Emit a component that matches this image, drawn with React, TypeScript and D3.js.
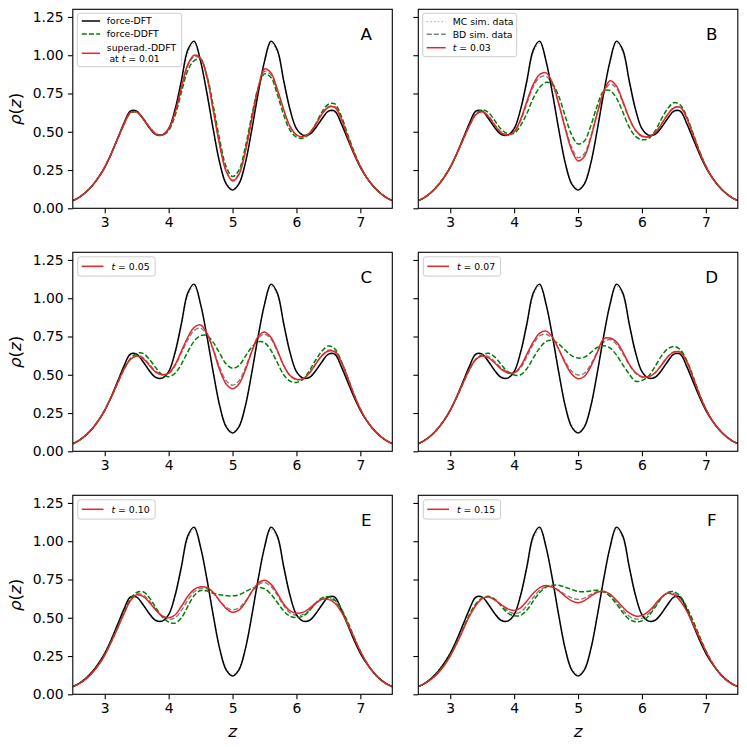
import React, { useEffect, useRef } from "react";
import * as d3 from "d3";

// z grid of the density profiles
const zGrid = [
  2.5, 2.6, 2.7, 2.8, 2.9, 3.0, 3.1, 3.2, 3.3, 3.4, 3.5, 3.6, 3.7, 3.8, 3.9, 4.0, 4.1, 4.2, 4.3, 4.4,
  4.5, 4.6, 4.7, 4.8, 4.9, 5.0, 5.1, 5.2, 5.3, 5.4, 5.5, 5.6, 5.7, 5.8, 5.9, 6.0, 6.1, 6.2, 6.3, 6.4,
  6.5, 6.6, 6.7, 6.8, 6.9, 7.0, 7.1, 7.2, 7.3, 7.4, 7.5,
];

// equilibrium curves, same in every panel
const forceDFT = [
  0.05, 0.072, 0.103, 0.145, 0.2, 0.268, 0.355, 0.455, 0.555, 0.635,
  0.635, 0.585, 0.525, 0.482, 0.478, 0.52, 0.645, 0.835, 1.035, 1.092,
  0.96, 0.75, 0.51, 0.295, 0.16, 0.12, 0.16, 0.295, 0.51, 0.75,
  0.96, 1.092, 1.035, 0.835, 0.645, 0.52, 0.478, 0.482, 0.525, 0.585,
  0.635, 0.635, 0.555, 0.455, 0.355, 0.268, 0.2, 0.145, 0.103, 0.072, 0.05,
];
const mcSim = [
  0.05, 0.073, 0.105, 0.148, 0.203, 0.272, 0.358, 0.455, 0.552, 0.628,
  0.632, 0.588, 0.53, 0.488, 0.482, 0.52, 0.635, 0.82, 1.015, 1.078,
  0.96, 0.755, 0.52, 0.305, 0.17, 0.128, 0.168, 0.3, 0.515, 0.745,
  0.95, 1.078, 1.02, 0.825, 0.64, 0.522, 0.482, 0.486, 0.528, 0.586,
  0.63, 0.628, 0.552, 0.455, 0.358, 0.272, 0.203, 0.148, 0.105, 0.073, 0.05,
];

// panel A, t = 0.01
const ddftA = [
  0.05, 0.072, 0.103, 0.145, 0.2, 0.268, 0.355, 0.452, 0.548, 0.622,
  0.628, 0.588, 0.53, 0.487, 0.478, 0.508, 0.605, 0.76, 0.9, 0.965,
  0.972, 0.865, 0.665, 0.445, 0.272, 0.207, 0.25, 0.4, 0.605, 0.785,
  0.878, 0.855, 0.745, 0.61, 0.51, 0.465, 0.457, 0.485, 0.55, 0.63,
  0.68, 0.682, 0.605, 0.485, 0.372, 0.275, 0.2, 0.145, 0.103, 0.072, 0.05,
];
const superA = [
  0.05, 0.072, 0.103, 0.145, 0.2, 0.268, 0.355, 0.452, 0.548, 0.625,
  0.628, 0.585, 0.528, 0.485, 0.478, 0.518, 0.625, 0.79, 0.94, 1.0,
  0.98, 0.855, 0.635, 0.41, 0.24, 0.178, 0.22, 0.37, 0.58, 0.785,
  0.91, 0.885, 0.78, 0.645, 0.535, 0.48, 0.467, 0.49, 0.545, 0.615,
  0.66, 0.66, 0.585, 0.47, 0.362, 0.272, 0.2, 0.145, 0.103, 0.072, 0.05,
];
const bdA = [
  0.05, 0.072, 0.104, 0.147, 0.202, 0.27, 0.356, 0.452, 0.548, 0.624,
  0.63, 0.588, 0.53, 0.486, 0.479, 0.516, 0.62, 0.782, 0.93, 0.992,
  0.975, 0.858, 0.64, 0.418, 0.248, 0.185, 0.226, 0.375, 0.582, 0.778,
  0.895, 0.872, 0.77, 0.64, 0.532, 0.478, 0.466, 0.49, 0.546, 0.618,
  0.664, 0.664, 0.588, 0.472, 0.364, 0.273, 0.202, 0.147, 0.104, 0.072, 0.05,
];

// panel B, t = 0.03
const ddftB = [
  0.05, 0.072, 0.103, 0.145, 0.2, 0.268, 0.353, 0.448, 0.54, 0.615,
  0.643, 0.625, 0.57, 0.515, 0.488, 0.49, 0.54, 0.62, 0.72, 0.79,
  0.823, 0.81, 0.73, 0.6, 0.48, 0.42, 0.44, 0.54, 0.67, 0.765,
  0.77, 0.72, 0.63, 0.53, 0.47, 0.448, 0.455, 0.5, 0.58, 0.65,
  0.69, 0.675, 0.6, 0.49, 0.375, 0.277, 0.2, 0.145, 0.103, 0.072, 0.05,
];
const superB = [
  0.05, 0.072, 0.103, 0.145, 0.2, 0.268, 0.353, 0.448, 0.54, 0.612,
  0.63, 0.598, 0.54, 0.492, 0.478, 0.5, 0.58, 0.7, 0.81, 0.875,
  0.885, 0.82, 0.68, 0.52, 0.38, 0.31, 0.34, 0.46, 0.62, 0.76,
  0.833, 0.8, 0.7, 0.59, 0.51, 0.472, 0.468, 0.49, 0.545, 0.61,
  0.655, 0.66, 0.59, 0.48, 0.368, 0.273, 0.2, 0.145, 0.103, 0.072, 0.05,
];
const bdB = [
  0.05, 0.072, 0.104, 0.147, 0.202, 0.27, 0.354, 0.448, 0.54, 0.613,
  0.632, 0.602, 0.545, 0.497, 0.48, 0.498, 0.57, 0.685, 0.795, 0.855,
  0.862, 0.805, 0.68, 0.53, 0.398, 0.33, 0.358, 0.472, 0.622, 0.75,
  0.812, 0.785, 0.692, 0.585, 0.508, 0.47, 0.466, 0.49, 0.548, 0.614,
  0.658, 0.66, 0.592, 0.48, 0.368, 0.274, 0.201, 0.146, 0.104, 0.072, 0.05,
];

// panel C, t = 0.05
const ddftC = [
  0.05, 0.072, 0.103, 0.145, 0.2, 0.268, 0.352, 0.445, 0.535, 0.605,
  0.64, 0.64, 0.6, 0.545, 0.5, 0.487, 0.51, 0.57, 0.65, 0.72,
  0.755, 0.755, 0.71, 0.64, 0.57, 0.543, 0.56, 0.62, 0.68, 0.715,
  0.71, 0.66, 0.58, 0.5, 0.458, 0.45, 0.47, 0.525, 0.595, 0.655,
  0.688, 0.67, 0.59, 0.485, 0.372, 0.275, 0.2, 0.145, 0.103, 0.072, 0.05,
];
const superC = [
  0.05, 0.072, 0.103, 0.145, 0.2, 0.268, 0.352, 0.445, 0.535, 0.6,
  0.623, 0.605, 0.56, 0.515, 0.5, 0.51, 0.565, 0.655, 0.745, 0.81,
  0.825, 0.77, 0.66, 0.53, 0.44, 0.409, 0.44, 0.53, 0.65, 0.75,
  0.78, 0.745, 0.66, 0.56, 0.495, 0.47, 0.475, 0.51, 0.57, 0.625,
  0.655, 0.65, 0.585, 0.48, 0.37, 0.275, 0.2, 0.145, 0.103, 0.072, 0.05,
];
const bdC = [
  0.05, 0.072, 0.104, 0.147, 0.202, 0.27, 0.353, 0.445, 0.535, 0.602,
  0.627, 0.612, 0.568, 0.522, 0.502, 0.508, 0.558, 0.642, 0.728, 0.79,
  0.805, 0.76, 0.665, 0.548, 0.462, 0.432, 0.46, 0.545, 0.652, 0.738,
  0.765, 0.735, 0.655, 0.562, 0.495, 0.468, 0.472, 0.508, 0.57, 0.628,
  0.66, 0.655, 0.588, 0.482, 0.371, 0.276, 0.201, 0.146, 0.104, 0.072, 0.05,
];

// panel D, t = 0.07
const ddftD = [
  0.05, 0.072, 0.103, 0.145, 0.2, 0.268, 0.352, 0.445, 0.535, 0.6,
  0.63, 0.64, 0.615, 0.565, 0.52, 0.498, 0.5, 0.54, 0.61, 0.675,
  0.718, 0.725, 0.7, 0.66, 0.625, 0.609, 0.615, 0.645, 0.678, 0.69,
  0.675, 0.63, 0.565, 0.505, 0.458, 0.462, 0.49, 0.55, 0.62, 0.668,
  0.685, 0.665, 0.595, 0.49, 0.375, 0.277, 0.2, 0.145, 0.103, 0.072, 0.05,
];
const superD = [
  0.05, 0.072, 0.103, 0.145, 0.2, 0.268, 0.352, 0.445, 0.535, 0.6,
  0.622, 0.61, 0.575, 0.535, 0.512, 0.512, 0.555, 0.635, 0.715, 0.772,
  0.785, 0.745, 0.665, 0.575, 0.505, 0.474, 0.49, 0.555, 0.645, 0.735,
  0.74, 0.715, 0.65, 0.57, 0.515, 0.488, 0.487, 0.51, 0.56, 0.615,
  0.648, 0.648, 0.585, 0.48, 0.37, 0.275, 0.2, 0.145, 0.103, 0.072, 0.05,
];
const bdD = [
  0.05, 0.072, 0.104, 0.147, 0.202, 0.27, 0.353, 0.445, 0.535, 0.602,
  0.626, 0.618, 0.585, 0.545, 0.518, 0.512, 0.545, 0.618, 0.7, 0.755,
  0.765, 0.735, 0.665, 0.585, 0.523, 0.498, 0.51, 0.568, 0.648, 0.712,
  0.73, 0.7, 0.64, 0.565, 0.51, 0.484, 0.486, 0.512, 0.562, 0.618,
  0.65, 0.65, 0.588, 0.482, 0.371, 0.276, 0.201, 0.146, 0.104, 0.072, 0.05,
];

// panel E, t = 0.10
const ddftE = [
  0.05, 0.07, 0.1, 0.14, 0.193, 0.26, 0.345, 0.44, 0.535, 0.62,
  0.665, 0.67, 0.63, 0.565, 0.505, 0.472, 0.465, 0.5, 0.575, 0.645,
  0.678, 0.675, 0.66, 0.65, 0.645, 0.643, 0.65, 0.67, 0.69, 0.698,
  0.69, 0.655, 0.6, 0.545, 0.51, 0.502, 0.51, 0.545, 0.595, 0.63,
  0.637, 0.615, 0.56, 0.475, 0.375, 0.28, 0.205, 0.145, 0.1, 0.07, 0.05,
];
const superE = [
  0.05, 0.07, 0.098, 0.138, 0.19, 0.255, 0.34, 0.43, 0.525, 0.61,
  0.65, 0.64, 0.6, 0.55, 0.512, 0.5, 0.518, 0.575, 0.64, 0.685,
  0.702, 0.698, 0.665, 0.61, 0.56, 0.536, 0.55, 0.6, 0.67, 0.725,
  0.745, 0.72, 0.66, 0.59, 0.545, 0.53, 0.535, 0.56, 0.595, 0.62,
  0.62, 0.595, 0.54, 0.46, 0.37, 0.28, 0.205, 0.145, 0.1, 0.07, 0.05,
];
const bdE = [
  0.05, 0.071, 0.1, 0.14, 0.193, 0.258, 0.342, 0.435, 0.53, 0.612,
  0.655, 0.648, 0.61, 0.555, 0.51, 0.49, 0.5, 0.548, 0.615, 0.67,
  0.692, 0.688, 0.658, 0.61, 0.568, 0.552, 0.565, 0.608, 0.668, 0.715,
  0.73, 0.705, 0.648, 0.58, 0.532, 0.515, 0.52, 0.548, 0.59, 0.622,
  0.628, 0.605, 0.548, 0.466, 0.372, 0.28, 0.205, 0.145, 0.1, 0.07, 0.05,
];

// panel F, t = 0.15
const ddftF = [
  0.05, 0.071, 0.1, 0.14, 0.19, 0.256, 0.338, 0.43, 0.52, 0.59,
  0.628, 0.64, 0.62, 0.575, 0.53, 0.513, 0.515, 0.55, 0.61, 0.665,
  0.7, 0.712, 0.712, 0.7, 0.685, 0.672, 0.67, 0.675, 0.68, 0.67,
  0.64, 0.59, 0.535, 0.49, 0.474, 0.48, 0.51, 0.565, 0.625, 0.665,
  0.67, 0.64, 0.57, 0.48, 0.38, 0.285, 0.205, 0.145, 0.1, 0.07, 0.05,
];
const superF = [
  0.05, 0.07, 0.097, 0.135, 0.185, 0.25, 0.33, 0.42, 0.51, 0.58,
  0.625, 0.635, 0.615, 0.585, 0.558, 0.548, 0.565, 0.61, 0.66, 0.697,
  0.71, 0.7, 0.675, 0.64, 0.61, 0.598, 0.612, 0.642, 0.667, 0.673,
  0.655, 0.615, 0.57, 0.532, 0.512, 0.515, 0.54, 0.585, 0.632, 0.66,
  0.65, 0.61, 0.545, 0.46, 0.37, 0.28, 0.205, 0.145, 0.1, 0.07, 0.05,
];
const bdF = [
  0.05, 0.071, 0.099, 0.138, 0.188, 0.253, 0.334, 0.425, 0.515, 0.585,
  0.627, 0.638, 0.618, 0.58, 0.545, 0.528, 0.538, 0.578, 0.632, 0.68,
  0.702, 0.7, 0.68, 0.652, 0.63, 0.62, 0.628, 0.652, 0.67, 0.668,
  0.645, 0.602, 0.552, 0.51, 0.492, 0.496, 0.524, 0.575, 0.628, 0.662,
  0.66, 0.625, 0.558, 0.47, 0.375, 0.282, 0.205, 0.145, 0.1, 0.07, 0.05,
];

const panelLetters = ["A", "B", "C", "D", "E", "F"];
const panelTimes = ["0.01", "0.03", "0.05", "0.07", "0.10", "0.15"];
const xTicks = [3, 4, 5, 6, 7];
const yTicks = [0, 0.25, 0.5, 0.75, 1.0, 1.25];

const panels = [
  { ddft: ddftA, superad: superA, bd: bdA },
  { ddft: ddftB, superad: superB, bd: bdB },
  { ddft: ddftC, superad: superC, bd: bdC },
  { ddft: ddftD, superad: superD, bd: bdD },
  { ddft: ddftE, superad: superE, bd: bdE },
  { ddft: ddftF, superad: superF, bd: bdF },
];

const FONT = "DejaVu Sans, sans-serif";
const RED = "#e3262c";
const GREEN = "#008000";

const styles = {
  mc: { stroke: "#b4b4b4", width: 1.3, dash: "1.4,2.3" },
  bd: { stroke: "#808080", width: 1.4, dash: "5,2.2" },
  dft: { stroke: "#000", width: 1.5, dash: null },
  ddft: { stroke: GREEN, width: 1.5, dash: "5,2.2" },
  superad: { stroke: RED, width: 1.5, dash: null },
};

const colX = [72.8, 418.3];
const rowY = [9.3, 252.3, 495.3];
const plotW = 319.5;
const plotH = 199;

const App: React.FC = () => {
  const ref = useRef<SVGSVGElement | null>(null);

  useEffect(() => {
    if (!ref.current) return;
    const svg = d3.select(ref.current);
    svg.selectAll("*").remove();

    const x = d3.scaleLinear().domain([2.5, 7.5]).range([0, plotW]);
    const y = d3.scaleLinear().domain([0, 1.3]).range([plotH, 0]);

    const line = d3
      .line<number>()
      .x((_, i) => x(zGrid[i]))
      .y((d) => y(d))
      .curve(d3.curveCatmullRom.alpha(0.5));

    panels.forEach((p, i) => {
      const col = i % 2;
      const row = Math.floor(i / 2);
      const g = svg
        .append("g")
        .attr("transform", `translate(${colX[col]},${rowY[row]})`);

      const clipId = `clip-${i}`;
      g.append("clipPath")
        .attr("id", clipId)
        .append("rect")
        .attr("width", plotW)
        .attr("height", plotH);

      const plot = g.append("g").attr("clip-path", `url(#${clipId})`);

      const series: [number[], keyof typeof styles][] = [
        [mcSim, "mc"],
        [p.bd, "bd"],
        [forceDFT, "dft"],
        [p.ddft, "ddft"],
        [p.superad, "superad"],
      ];
      series.forEach(([vals, key]) => {
        const s = styles[key];
        plot
          .append("path")
          .datum(vals)
          .attr("fill", "none")
          .attr("stroke", s.stroke)
          .attr("stroke-width", s.width)
          .attr("stroke-dasharray", s.dash)
          .attr("d", line);
      });

      // axes
      const xAxis = g
        .append("g")
        .attr("transform", `translate(0,${plotH})`)
        .call(
          d3
            .axisBottom(x)
            .tickValues(xTicks)
            .tickSize(4.9)
            .tickPadding(4.2)
            .tickFormat(d3.format("d"))
        );
      const yAxis = g.append("g").call(
        d3
          .axisLeft(y)
          .tickValues(yTicks)
          .tickSize(4.9)
          .tickPadding(4.2)
          .tickFormat(col === 0 ? d3.format(".2f") : () => "")
      );
      [xAxis, yAxis].forEach((a) => {
        a.select(".domain").remove();
        a.selectAll(".tick line").attr("stroke", "#000").attr("stroke-width", 1.1);
        a.selectAll(".tick text")
          .attr("fill", "#000")
          .style("font-family", FONT)
          .style("font-size", "13.9px");
      });

      g.append("rect")
        .attr("width", plotW)
        .attr("height", plotH)
        .attr("fill", "none")
        .attr("stroke", "#000")
        .attr("stroke-width", 1.1);

      // panel letter
      g.append("text")
        .attr("x", plotW - 26)
        .attr("y", 31)
        .attr("text-anchor", "middle")
        .style("font-family", FONT)
        .style("font-size", "16.7px")
        .text(panelLetters[i]);

      // legends
      const leg = g.append("g").style("font-family", FONT).style("font-size", "9.3px");
      const handle = (yy: number, x0: number, x1: number, key: keyof typeof styles) => {
        const s = styles[key];
        leg
          .append("line")
          .attr("x1", x0)
          .attr("x2", x1)
          .attr("y1", yy)
          .attr("y2", yy)
          .attr("stroke", s.stroke)
          .attr("stroke-width", s.width)
          .attr("stroke-dasharray", s.dash);
      };
      const tLabel = (xx: number, yy: number, t: string, lead = "") => {
        const tx = leg.append("text").attr("x", xx).attr("y", yy);
        if (lead) tx.append("tspan").text(lead);
        tx.append("tspan").style("font-style", "italic").text("t");
        tx.append("tspan").text(` = ${t}`);
      };
      const box = (bx: number, by: number, bw: number, bh: number) =>
        leg
          .append("rect")
          .attr("x", bx)
          .attr("y", by)
          .attr("width", bw)
          .attr("height", bh)
          .attr("rx", 2.5)
          .attr("fill", "#fff")
          .attr("fill-opacity", 0.8)
          .attr("stroke", "#cccccc")
          .attr("stroke-width", 1);

      if (i === 0) {
        box(4.5, 4, 104.4, 53.4);
        handle(11.7, 9, 27.3, "dft");
        leg.append("text").attr("x", 34).attr("y", 15.2).text("force-DFT");
        handle(24.7, 9, 27.3, "ddft");
        leg.append("text").attr("x", 34).attr("y", 28.2).text("force-DDFT");
        handle(44, 9, 27.3, "superad");
        leg.append("text").attr("x", 34).attr("y", 42.2).text("superad.-DDFT");
        tLabel(36.6, 53.2, panelTimes[i], "at ");
      } else if (i === 1) {
        box(4.4, 4, 94, 43.4);
        handle(12.4, 8.4, 27.4, "mc");
        leg.append("text").attr("x", 34.4).attr("y", 15.9).text("MC sim. data");
        handle(25, 8.4, 27.4, "bd");
        leg.append("text").attr("x", 34.4).attr("y", 28.5).text("BD sim. data");
        handle(38.4, 8.4, 27.4, "superad");
        tLabel(34.4, 41.9, panelTimes[i]);
      } else {
        box(5, 4.5, 77.3, 19.3);
        handle(14, 9, 30.7, "superad");
        tLabel(38.7, 17.5, panelTimes[i]);
      }

      // axis labels
      if (col === 0) {
        const yl = svg
          .append("text")
          .attr("transform", `translate(21,${rowY[row] + plotH / 2}) rotate(-90)`)
          .attr("text-anchor", "middle")
          .style("font-family", FONT)
          .style("font-size", "16.7px");
        yl.append("tspan").style("font-style", "italic").text("ρ");
        yl.append("tspan").text("(");
        yl.append("tspan").style("font-style", "italic").text("z");
        yl.append("tspan").text(")");
      }
      if (row === 2) {
        svg
          .append("text")
          .attr("x", colX[col] + plotW / 2)
          .attr("y", 737)
          .attr("text-anchor", "middle")
          .style("font-family", FONT)
          .style("font-size", "16.7px")
          .style("font-style", "italic")
          .text("z");
      }
    });
  }, []);

  return (
    <svg
      ref={ref}
      width={747}
      height={747}
      style={{ position: "absolute", left: 0, top: 0, background: "#fff" }}
    />
  );
};

export default App;
